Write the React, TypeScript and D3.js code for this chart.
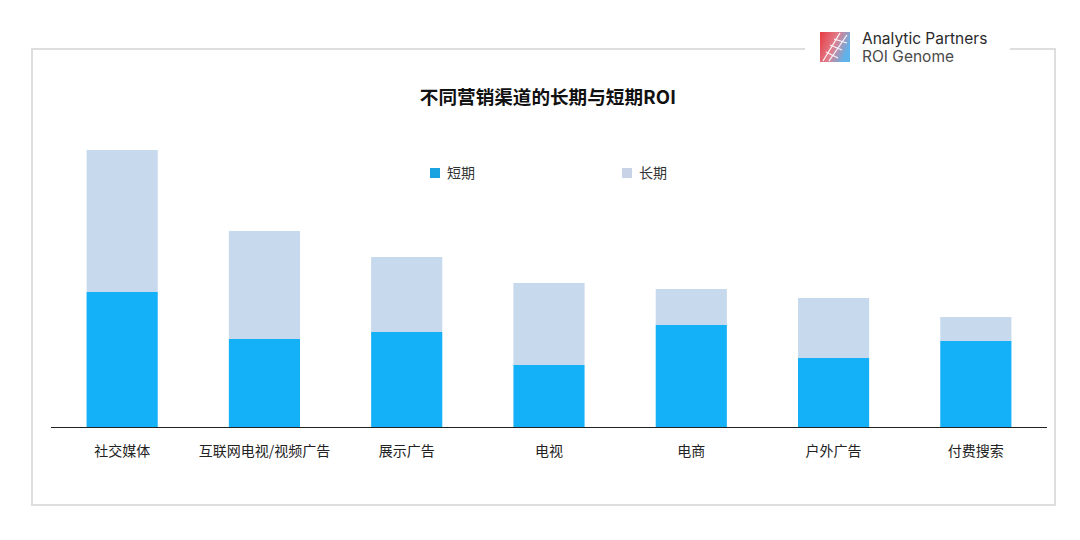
import React from "react";
import * as d3 from "d3";

const categories = ["社交媒体", "互联网电视/视频广告", "展示广告", "电视", "电商", "户外广告", "付费搜索"];
const shortTerm = [1.35, 0.88, 0.95, 0.62, 1.02, 0.69, 0.86];
const longTerm = [1.42, 1.08, 0.75, 0.82, 0.36, 0.6, 0.24];
const seriesNames = ["短期", "长期"];
const colors = ["#14b0f8", "#c7d9ed"];
const legendColors = ["#1aa3e0", "#c9d3e8"];

export default function App() {
  const W = 1080, H = 540;
  const x = d3.scaleBand<string>().domain(categories).range([51, 1047]).paddingInner(0.5).paddingOuter(0.25);
  const y = d3.scaleLinear().domain([0, 3]).range([427, 127]);
  const font = "'Noto Sans CJK SC', 'Noto Sans', sans-serif";
  return (
    <svg width={W} height={H} style={{ position: "absolute", left: 0, top: 0, background: "#fff" }} fontFamily={font}>
      <defs>
        <linearGradient id="lg" x1="0" y1="0" x2="1" y2="0.4">
          <stop offset="0" stopColor="#e83a3f" />
          <stop offset="0.55" stopColor="#e07e8e" />
          <stop offset="1" stopColor="#5fb3ea" />
        </linearGradient>
      </defs>
      <rect x={0} y={0} width={W} height={H} fill="#fff" />
      <rect x={32} y={49} width={1023} height={456} fill="none" stroke="#dedede" strokeWidth={2} />
      <rect x={805} y={40} width={205} height={20} fill="#fff" />
      {/* logo */}
      <g transform="translate(820,32)">
        <rect x={0} y={0} width={30} height={30} fill="url(#lg)" />
        <path d="M3 29 L20 1 M9 29 L27 3 M6 20 L18 26 M10 13 L22 18 M14 7 L27 11" stroke="#fff" strokeWidth={1.3} fill="none" opacity={0.9} />
      </g>
      <text x={862} y={44} fontSize={15.5} fill="#2a2a2a" fontFamily="Inter, 'Open Sans', sans-serif">Analytic Partners</text>
      <text x={862} y={62} fontSize={15.5} fill="#4a4a4a" fontFamily="Inter, 'Open Sans', sans-serif">ROI Genome</text>
      <text x={548} y={104} fontSize={18.6} fontWeight="bold" textAnchor="middle" fill="#111">不同营销渠道的长期与短期ROI</text>
      {/* legend */}
      {seriesNames.map((n, i) => (
        <g key={n} transform={`translate(${[430, 622][i]},168)`}>
          <rect x={0} y={0} width={10} height={10} fill={legendColors[i]} />
          <text x={17} y={10} fontSize={14} fill="#333">{n}</text>
        </g>
      ))}
      {categories.map((c, i) => {
        const bx = x(c)!;
        const bw = x.bandwidth();
        const s = shortTerm[i];
        const t = s + longTerm[i];
        return (
          <g key={c}>
            <rect x={bx} y={y(t)} width={bw} height={y(s) - y(t)} fill={colors[1]} />
            <rect x={bx} y={y(s)} width={bw} height={y(0) - y(s)} fill={colors[0]} />
            <text x={bx + bw / 2} y={456} fontSize={14} textAnchor="middle" fill="#222">{c}</text>
          </g>
        );
      })}
      <line x1={51} x2={1047} y1={427.5} y2={427.5} stroke="#222" strokeWidth={1} />
    </svg>
  );
}
